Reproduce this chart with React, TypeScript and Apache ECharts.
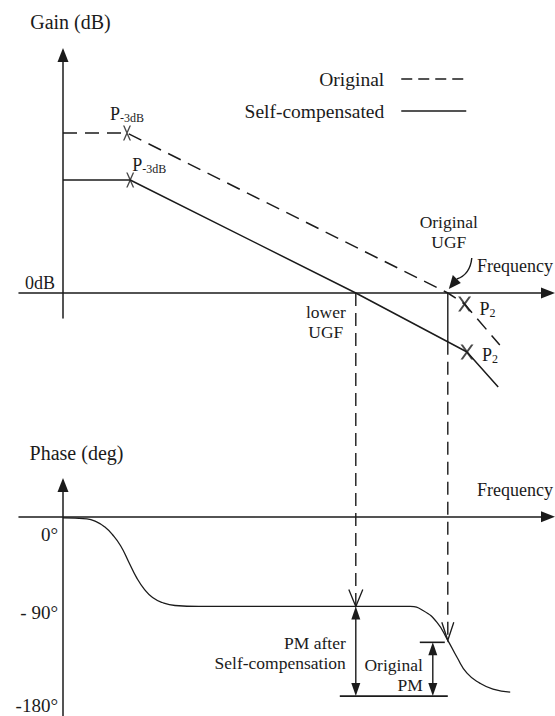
import React, { useEffect, useRef } from 'react';
import * as echarts from 'echarts';

// Frequency is expressed in decades (log10 f); gain in dB; phase in degrees.
const freqOriginal = [0, 0.8, 4.81, 5.02, 5.46];
const gainOriginal = [80, 80, 0, -5.5, -26];
const freqSelf = [0, 0.84, 3.66, 5.05, 5.44];
const gainSelf = [56.5, 56.5, 0, -29.5, -47];

// Phase response of the self-compensated loop
const phaseFreq = [0, 0.3, 0.42, 0.52, 0.62, 0.72, 0.82, 0.92, 1.02, 1.12, 1.24, 1.4, 1.7, 4.34, 4.5, 4.675, 4.81, 4.925, 5.05, 5.21, 5.375, 5.59];
const phaseDeg = [-1, -2, -5, -10, -18, -29, -45, -61, -73, -81, -86, -89, -90, -90, -94, -106, -124, -141, -157, -167, -173, -176];

const seriesNames = ['Original', 'Self-compensated'];
const gainTickValues = [0];
const gainTickLabels = ['0dB'];
const phaseTickValues = [0, -90, -180];
const phaseTickLabels = ['0°', '- 90°', '-180°'];

// indices into the gain curves
const P3DB = 1;
const UGF = 2;
const P2 = 3;
const PHASE_FLOOR = -180;

const FONT = 'Liberation Serif';
const INK = '#1b1b1b';
const X_MARK = 'path://M0,0L18,0L50,38L82,0L100,0L59,50L100,100L82,100L50,62L18,100L0,100L41,50Z';

const interp = (xs: number[], ys: number[], x: number) => {
  for (let i = 1; i < xs.length; i++) {
    if (x <= xs[i]) {
      const t = (x - xs[i - 1]) / (xs[i] - xs[i - 1]);
      return ys[i - 1] + t * (ys[i] - ys[i - 1]);
    }
  }
  return ys[ys.length - 1];
};

const zip = (xs: number[], ys: number[]) => xs.map((x, i) => [x, ys[i]]);

const axisLine = {
  onZero: true,
  symbol: ['none', 'triangle'],
  symbolSize: [11, 14],
  lineStyle: { color: INK, width: 1.5 },
};
const hidden = { show: false };

const freqAxis = (gridIndex: number) => ({
  type: 'value',
  gridIndex,
  min: -0.55,
  max: 6.0625,
  axisLine,
  axisTick: hidden,
  axisLabel: hidden,
  splitLine: hidden,
  name: 'Frequency',
  nameLocation: 'end',
  nameGap: 5,
  nameTextStyle: {
    fontFamily: FONT,
    fontSize: 18,
    color: INK,
    align: 'right',
    verticalAlign: 'bottom',
    lineHeight: 20,
    padding: [0, 0, 17, 0],
  },
});

const buildOption = () => ({
  animation: false,
  backgroundColor: '#ffffff',
  textStyle: { fontFamily: FONT, color: INK },
  legend: seriesNames.map((name, i) => ({
    data: [name],
    right: 88,
    top: i === 0 ? 69 : 101,
    align: 'right',
    itemWidth: 65,
    itemHeight: 14,
    padding: 0,
    selectedMode: false,
    textStyle: { fontFamily: FONT, fontSize: 19.5, color: INK, padding: [0, 12, 0, 0] },
    itemStyle: { opacity: 0 },
    lineStyle: { width: 1.5, type: i === 0 ? [11, 6] : 'solid' },
  })),
  grid: [
    { left: 19, top: 55, width: 529, height: 263, outerBoundsMode: 'none', containLabel: false },
    { left: 19, top: 485, width: 529, height: 231, outerBoundsMode: 'none', containLabel: false },
  ],
  xAxis: [freqAxis(0), freqAxis(1)],
  yAxis: [
    {
      type: 'value',
      gridIndex: 0,
      min: -12.5,
      max: 119,
      axisLine,
      axisTick: hidden,
      splitLine: hidden,
      axisLabel: {
        customValues: gainTickValues,
        formatter: (v: number) => gainTickLabels[gainTickValues.indexOf(v)] ?? '',
        fontFamily: FONT,
        fontSize: 18,
        color: INK,
        verticalAlign: 'bottom',
        lineHeight: 20,
        margin: -36,
      },
      name: 'Gain (dB)',
      nameLocation: 'end',
      nameGap: 23,
      nameTextStyle: { fontFamily: FONT, fontSize: 20, color: INK, align: 'center', padding: [0, 0, 0, 15] },
    },
    {
      type: 'value',
      gridIndex: 1,
      min: -200,
      max: 32,
      axisLine,
      axisTick: hidden,
      splitLine: hidden,
      axisLabel: {
        customValues: phaseTickValues,
        formatter: (v: number) => {
          const i = phaseTickValues.indexOf(v);
          return i < 0 ? '' : `{t${i}|${phaseTickLabels[i]}}`;
        },
        verticalAlign: 'middle',
        margin: -39,
        rich: {
          t0: { fontFamily: FONT, fontSize: 19, color: INK, lineHeight: 20, padding: [36, 0, 0, 0] },
          t1: { fontFamily: FONT, fontSize: 19, color: INK, lineHeight: 20, padding: [12, 0, 0, 0] },
          t2: { fontFamily: FONT, fontSize: 19, color: INK, lineHeight: 20, padding: [18, 0, 0, 0] },
        },
      },
      name: 'Phase (deg)',
      nameLocation: 'end',
      nameGap: 22,
      nameTextStyle: { fontFamily: FONT, fontSize: 20, color: INK, align: 'center', padding: [0, 0, 0, 27] },
    },
  ],
  series: [
    {
      name: seriesNames[0],
      type: 'line',
      xAxisIndex: 0,
      yAxisIndex: 0,
      data: zip(freqOriginal, gainOriginal),
      symbol: 'none',
      clip: false,
      silent: true,
      lineStyle: { color: INK, width: 1.5, type: [14, 8] },
      itemStyle: { color: INK },
    },
    {
      name: seriesNames[1],
      type: 'line',
      xAxisIndex: 0,
      yAxisIndex: 0,
      data: zip(freqSelf, gainSelf),
      symbol: 'none',
      clip: false,
      silent: true,
      lineStyle: { color: INK, width: 1.5 },
      itemStyle: { color: INK },
    },
    {
      type: 'scatter',
      xAxisIndex: 0,
      yAxisIndex: 0,
      symbol: X_MARK,
      symbolSize: [8, 15],
      clip: false,
      silent: true,
      z: 5,
      itemStyle: { color: INK },
      data: [
        [freqOriginal[P3DB], gainOriginal[P3DB]],
        [freqSelf[P3DB], gainSelf[P3DB]],
      ],
    },
    {
      type: 'scatter',
      xAxisIndex: 0,
      yAxisIndex: 0,
      symbol: X_MARK,
      symbolSize: [13, 15],
      clip: false,
      silent: true,
      z: 5,
      itemStyle: { color: INK },
      data: [
        [freqOriginal[P2], gainOriginal[P2]],
        [freqSelf[P2], gainSelf[P2]],
      ],
    },
    {
      type: 'line',
      xAxisIndex: 1,
      yAxisIndex: 1,
      data: zip(phaseFreq, phaseDeg),
      symbol: 'none',
      smooth: 0.5,
      clip: false,
      silent: true,
      lineStyle: { color: INK, width: 1.3 },
    },
  ],
});

type Pt = number[];

const buildAnnotations = (chart: echarts.ECharts) => {
  const toPx = (gridIndex: number, x: number, y: number) =>
    chart.convertToPixel({ gridIndex } as any, [x, y]) as unknown as Pt;

  const ugfOrig = freqOriginal[UGF];
  const ugfLower = freqSelf[UGF];
  const phaseLower = interp(phaseFreq, phaseDeg, ugfLower);
  const phaseOrig = interp(phaseFreq, phaseDeg, ugfOrig);
  const gainSelfAtOrig = interp(freqSelf, gainSelf, ugfOrig);

  const els: any[] = [];
  const line = (a: Pt, b: Pt, dash?: number[], w = 1.4) =>
    els.push({
      type: 'line',
      z: 10,
      silent: true,
      shape: { x1: a[0], y1: a[1], x2: b[0], y2: b[1] },
      style: { stroke: INK, lineWidth: w, lineDash: dash ?? null },
    });
  const openHead = (tip: Pt, hw: number, h: number) =>
    els.push({
      type: 'polyline',
      z: 10,
      silent: true,
      shape: { points: [[tip[0] - hw, tip[1] - h], tip, [tip[0] + hw, tip[1] - h]] },
      style: { stroke: INK, lineWidth: 1.3, fill: null },
    });
  const solidHead = (tip: Pt, dir: 1 | -1, hw = 4.5, h = 13) =>
    els.push({
      type: 'polygon',
      z: 10,
      silent: true,
      shape: { points: [tip, [tip[0] - hw, tip[1] + dir * h], [tip[0] + hw, tip[1] + dir * h]] },
      style: { fill: INK },
    });
  const text = (x: number, y: number, t: string, align: string, extra: any = {}) =>
    els.push({
      type: 'text',
      z: 10,
      silent: true,
      x,
      y,
      style: {
        text: t,
        fontFamily: FONT,
        fontSize: 17.5,
        lineHeight: 20,
        fill: INK,
        align,
        verticalAlign: 'middle',
        ...extra,
      },
    });
  const poleLabel = (x: number, y: number, sub: string) =>
    text(x, y, `{p|P}{s|${sub}}`, 'left', {
      rich: {
        p: { fontFamily: FONT, fontSize: 18, lineHeight: 20, fill: INK },
        s: { fontFamily: FONT, fontSize: 12, lineHeight: 12, verticalAlign: 'bottom', fill: INK },
      },
    });

  // lower UGF projected onto the phase curve
  const lowA = toPx(0, ugfLower, 0);
  const lowB = toPx(1, ugfLower, phaseLower);
  line(lowA, lowB, [13, 7]);
  openHead(lowB, 7, 17);

  // original UGF projected onto the phase curve
  const origA = toPx(0, ugfOrig, 0);
  const origM = toPx(0, ugfOrig, gainSelfAtOrig);
  const origB = toPx(1, ugfOrig, phaseOrig);
  line(origA, origM);
  line(origM, origB, [13, 7]);
  openHead(origB, 6, 18);

  // phase margin after self-compensation
  const floorLow = toPx(1, ugfLower, PHASE_FLOOR);
  const floorOrig = toPx(1, ugfOrig, PHASE_FLOOR);
  line([lowB[0], lowB[1] + 10], [floorLow[0], floorLow[1] - 10]);
  solidHead(lowB, 1);
  solidHead(floorLow, -1);
  line([floorLow[0] - 16, floorLow[1]], [floorOrig[0], floorOrig[1]], undefined, 1.6);

  // original phase margin
  const pmX = origB[0] - 15;
  line([origB[0] - 28, origB[1] + 2], [origB[0] - 3, origB[1] + 2], undefined, 1.6);
  line([pmX, origB[1] + 12], [pmX, floorOrig[1] - 10]);
  solidHead([pmX, origB[1] + 2], 1);
  solidHead([pmX, floorOrig[1]], -1);

  // curved pointer to the original UGF
  els.push({
    type: 'bezierCurve',
    z: 10,
    silent: true,
    shape: {
      x1: origA[0] + 24, y1: origA[1] - 35,
      cpx1: origA[0] + 23, cpy1: origA[1] - 25,
      cpx2: origA[0] + 18, cpy2: origA[1] - 17,
      x2: origA[0] + 9, y2: origA[1] - 14,
    },
    style: { stroke: INK, lineWidth: 1.4, fill: null },
  });
  els.push({
    type: 'polygon',
    z: 10,
    silent: true,
    shape: {
      points: [
        [origA[0] + 1, origA[1] - 4],
        [origA[0] + 13, origA[1] - 10],
        [origA[0] + 5, origA[1] - 18],
      ],
    },
    style: { fill: INK },
  });

  // labels
  const p3o = toPx(0, freqOriginal[P3DB], gainOriginal[P3DB]);
  const p3s = toPx(0, freqSelf[P3DB], gainSelf[P3DB]);
  const p2o = toPx(0, freqOriginal[P2], gainOriginal[P2]);
  const p2s = toPx(0, freqSelf[P2], gainSelf[P2]);
  poleLabel(p3o[0] - 17, p3o[1] - 19.5, '-3dB');
  poleLabel(p3s[0] + 2, p3s[1] - 15, '-3dB');
  poleLabel(p2o[0] + 15, p2o[1] + 5, '2');
  poleLabel(p2s[0] + 15, p2s[1] + 3, '2');

  text(origA[0] + 1, origA[1] - 61.5, 'Original\nUGF', 'center');
  text(lowA[0] - 30, lowA[1] + 28.5, 'lower\nUGF', 'center');
  text(lowB[0] - 10, lowB[1] + 47, 'PM after\nSelf-compensation', 'right');
  text(pmX - 10, floorOrig[1] - 21, 'Original\nPM', 'right');

  return els;
};

export default function App() {
  const ref = useRef<HTMLDivElement>(null);
  useEffect(() => {
    const el = ref.current;
    if (!el) return;
    const chart = echarts.init(el, undefined, { renderer: 'svg' });
    chart.setOption(buildOption() as any);
    chart.setOption({ graphic: buildAnnotations(chart) } as any);
    return () => chart.dispose();
  }, []);
  return (
    <div
      ref={ref}
      style={{ position: 'fixed', left: 0, top: 0, width: 555, height: 716, background: '#ffffff' }}
    />
  );
}
